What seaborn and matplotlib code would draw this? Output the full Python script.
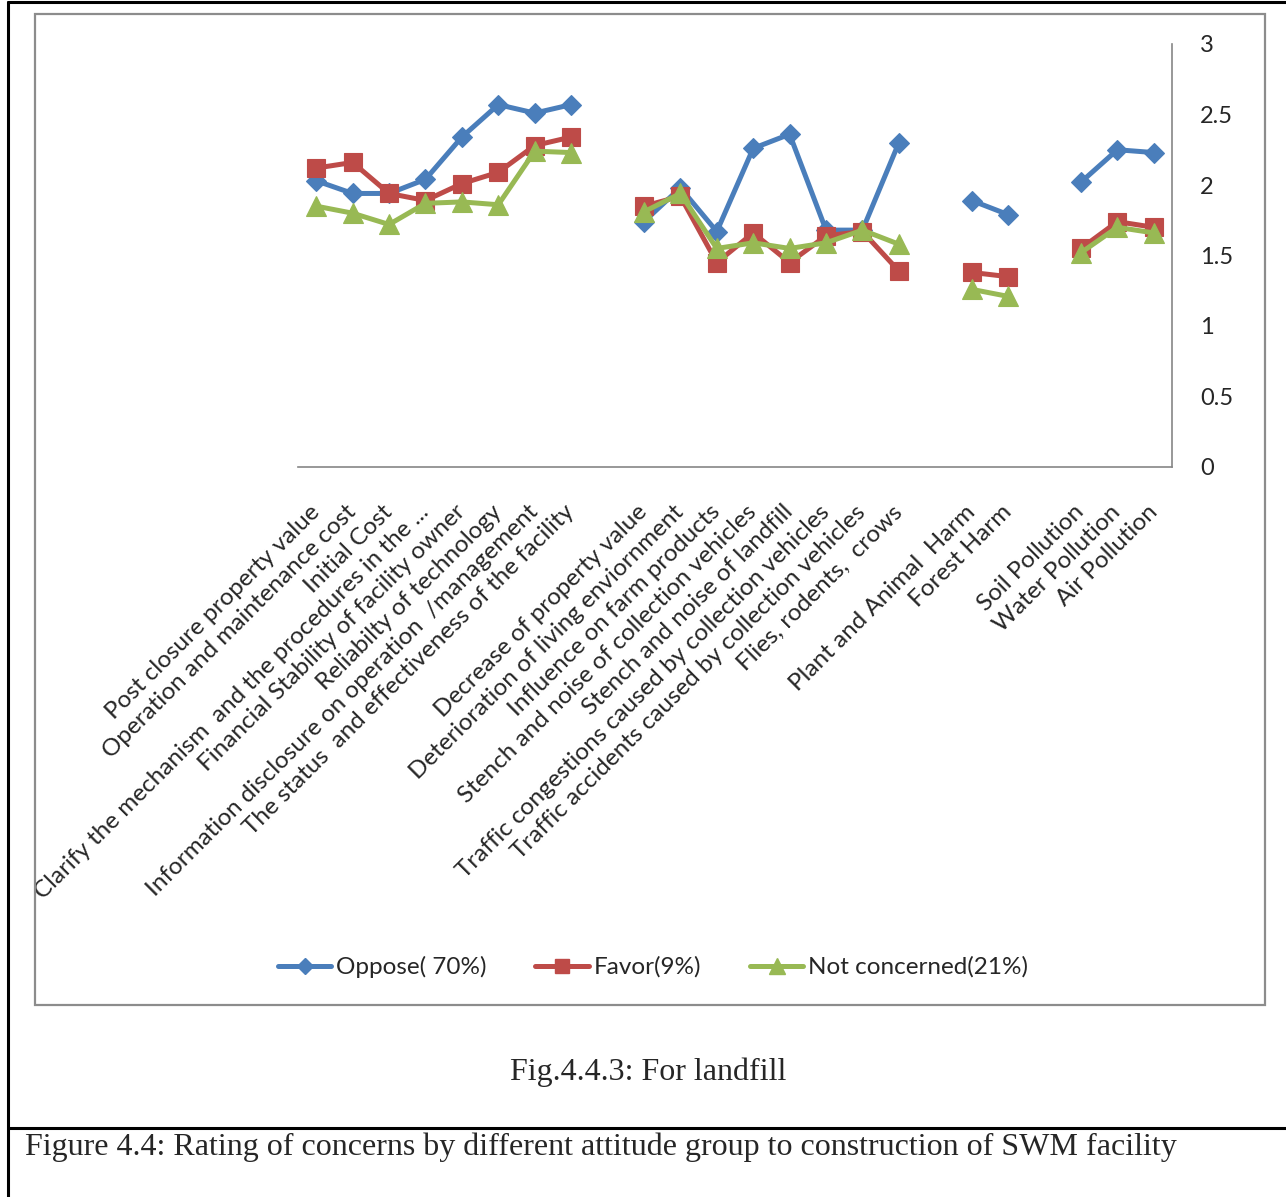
import numpy as np
import pandas as pd
import matplotlib.pyplot as plt
from matplotlib.lines import Line2D
from matplotlib.patches import Rectangle
import seaborn as sns

# ─── Data (blank strings are the empty gap categories) ────────────────────────
categories = [
    'Post closure property value',
    'Operation and maintenance cost',
    'Initial Cost',
    'Clarify the mechanism  and the procedures in the ...',
    'Financial Stability of facility owner',
    'Reliabilty of technology',
    'Information disclosure on operation  /management',
    'The status  and effectiveness of the facility',
    '',
    'Decrease of property value',
    'Deterioration of living enviornment',
    'Influence on farm products',
    'Stench and noise of collection vehicles',
    'Stench and noise of landfill',
    'Traffic congestions caused by collection vehicles',
    'Traffic accidents caused by collection vehicles',
    'Flies, rodents,  crows',
    '',
    'Plant and Animal  Harm',
    'Forest Harm',
    '',
    'Soil Pollution',
    'Water Pollution',
    'Air Pollution',
]

oppose = [2.03, 1.94, 1.94, 2.04, 2.34, 2.57, 2.51, 2.57, None,
          1.74, 1.98, 1.67, 2.26, 2.36, 1.68, 1.68, 2.30, None,
          1.89, 1.79, None,
          2.02, 2.25, 2.23]
favor = [2.12, 2.16, 1.94, 1.89, 2.01, 2.09, 2.28, 2.34, None,
         1.85, 1.92, 1.45, 1.66, 1.45, 1.64, 1.67, 1.39, None,
         1.38, 1.35, None,
         1.55, 1.74, 1.70]
not_concerned = [1.85, 1.80, 1.72, 1.87, 1.88, 1.86, 2.24, 2.23, None,
                 1.81, 1.94, 1.55, 1.59, 1.55, 1.59, 1.68, 1.58, None,
                 1.26, 1.21, None,
                 1.52, 1.70, 1.66]

series_names = ['Oppose( 70%)', 'Favor(9%)', 'Not concerned(21%)']
series_values = [oppose, favor, not_concerned]
COLORS = ['#4A7EBB', '#BE4B48', '#98B954']
MARKERS = ['D', 's', '^']
MSIZES = [10, 13, 14]

# long table; a new segment starts after every blank category
rows = []
for name, vals in zip(series_names, series_values):
    seg = 0
    for i, v in enumerate(vals):
        if v is None:
            seg += 1
            continue
        rows.append({'pos': i, 'value': v, 'series': name, 'segment': seg})
df = pd.DataFrame(rows)

# ─── Figure ───────────────────────────────────────────────────────────────────
sns.set_theme(style='white')
plt.rcParams['font.family'] = ['Lato', 'DejaVu Sans']

W, H = 1286, 1197
fig = plt.figure(figsize=(W / 100, H / 100), dpi=100)
ax = fig.add_axes([298 / W, 1 - 467 / H, (1172 - 298) / W, (467 - 44) / H])

for name, color, mk, ms in zip(series_names, COLORS, MARKERS, MSIZES):
    sub = df[df['series'] == name]
    for seg, part in sub.groupby('segment'):
        sns.lineplot(data=part, x='pos', y='value', ax=ax, color=color,
                     marker=mk, markersize=ms, markeredgewidth=0.8,
                     markeredgecolor=color, linewidth=3.6, legend=False,
                     estimator=None, sort=False)

ax.set_xlim(-0.5, len(categories) - 0.5)
ax.set_ylim(0, 3)
ax.set_xlabel('')
ax.set_ylabel('')

# right value axis, Excel style
ax.yaxis.tick_right()
ax.set_yticks([0, 0.5, 1, 1.5, 2, 2.5, 3])
ax.set_yticklabels(['0', '0.5', '1', '1.5', '2', '2.5', '3'], fontsize=17)
ax.tick_params(axis='y', length=0, pad=20)

ax.set_xticks(range(len(categories)))
ax.set_xticklabels(categories, rotation=45, ha='right', va='center',
                   rotation_mode='anchor', fontsize=17.5)
ax.tick_params(axis='x', length=0, pad=30)

for s in ['top', 'left']:
    ax.spines[s].set_visible(False)
for s in ['right', 'bottom']:
    ax.spines[s].set_color('#868686')
    ax.spines[s].set_linewidth(1.2)
ax.grid(False)

# legend
handles = [Line2D([], [], color=c, marker=m, markersize=ms * 0.8, linewidth=3.6,
                  markeredgecolor=c) for c, m, ms in zip(COLORS, MARKERS, MSIZES)]
fig.legend(handles, series_names, loc='center', bbox_to_anchor=(653 / W, 1 - 967 / H),
           ncol=3, frameon=False, fontsize=17.5, handlelength=2.2,
           handletextpad=0.2, columnspacing=2.0)

# chart frame and page borders
fig.patches.append(Rectangle((35 / W, 1 - 1005 / H), (1265 - 35) / W, (1005 - 14) / H,
                             transform=fig.transFigure, fill=False,
                             edgecolor='#8C8C8C', linewidth=1.6))
fig.add_artist(Line2D([8 / W, 8 / W], [0, 1 - 2 / H], transform=fig.transFigure,
                      color='black', linewidth=2.2))
fig.add_artist(Line2D([8 / W, 1], [1 - 2 / H, 1 - 2 / H], transform=fig.transFigure,
                      color='black', linewidth=2.2))
fig.add_artist(Line2D([8 / W, 1], [1 - 1128 / H, 1 - 1128 / H], transform=fig.transFigure,
                      color='black', linewidth=2.2))

# captions
fig.text(648 / W, 1 - 1072 / H, 'Fig.4.4.3: For landfill', ha='center', va='center',
         fontsize=23, family=['Liberation Serif', 'DejaVu Serif'])
fig.text(25 / W, 1 - 1147 / H,
         'Figure 4.4: Rating of concerns by different attitude group to construction of SWM facility',
         ha='left', va='center', fontsize=23, family=['Liberation Serif', 'DejaVu Serif'])

plt.savefig('out.png', dpi=100)
plt.close()
